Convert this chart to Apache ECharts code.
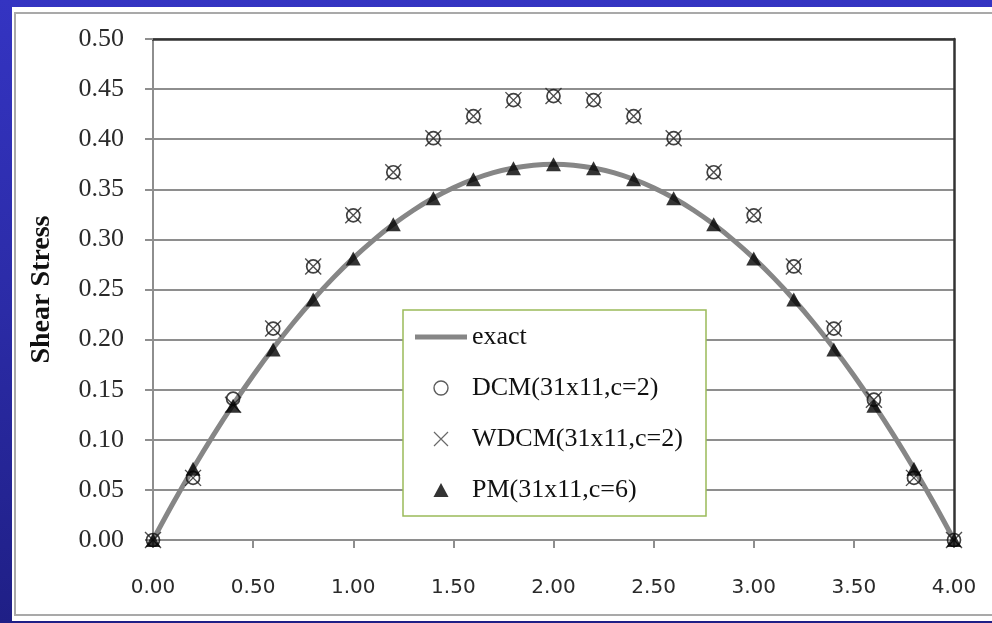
<!DOCTYPE html>
<html>
<head>
<meta charset="utf-8">
<script src="https://cdn.jsdelivr.net/npm/echarts@6/dist/echarts.min.js"></script>
<style>
html,body{margin:0;padding:0;width:992px;height:623px;overflow:hidden;}
body{background:linear-gradient(180deg,#3434c2 0%,#2b2ba6 50%,#1f1f86 100%);position:relative;}
#panel{position:absolute;left:12px;top:7px;width:1000px;height:614px;background:#fff;}
#frame{position:absolute;left:14px;top:12px;width:1000px;height:604px;border:2px solid #a9a9a9;box-sizing:border-box;}
#chart{position:absolute;left:0;top:0;width:992px;height:623px;}
</style>
</head>
<body>
<div id="panel"></div>
<div id="frame"></div>
<div id="chart"></div>
<script>
// ---- data ----
const xNodes = [0.0,0.2,0.4,0.6,0.8,1.0,1.2,1.4,1.6,1.8,2.0,2.2,2.4,2.6,2.8,3.0,3.2,3.4,3.6,3.8,4.0];
const dcmValues  = [0,0.062,0.141,0.211,0.273,0.324,0.367,0.401,0.423,0.439,0.443,0.439,0.423,0.401,0.367,0.324,0.273,0.211,0.140,0.062,0];
const wdcmValues = [0,0.062,0.135,0.211,0.273,0.324,0.367,0.401,0.423,0.439,0.443,0.439,0.423,0.401,0.367,0.324,0.273,0.211,0.140,0.062,0];
const pmValues   = [0,0.071,0.134,0.190,0.240,0.281,0.315,0.341,0.360,0.371,0.375,0.371,0.360,0.341,0.315,0.281,0.240,0.190,0.134,0.071,0];
const exactX = [0.0,0.1,0.2,0.3,0.4,0.5,0.6,0.7,0.8,0.9,1.0,1.1,1.2,1.3,1.4,1.5,1.6,1.7,1.8,1.9,2.0,
                2.1,2.2,2.3,2.4,2.5,2.6,2.7,2.8,2.9,3.0,3.1,3.2,3.3,3.4,3.5,3.6,3.7,3.8,3.9,4.0];
const exactY = [0,0.0366,0.0713,0.1041,0.1350,0.1641,0.1913,0.2166,0.2400,0.2616,0.2813,0.2991,0.3150,0.3291,0.3413,0.3516,0.3600,0.3666,0.3713,0.3741,0.3750,
                0.3741,0.3713,0.3666,0.3600,0.3516,0.3413,0.3291,0.3150,0.2991,0.2813,0.2616,0.2400,0.2166,0.1913,0.1641,0.1350,0.1041,0.0713,0.0366,0];
const seriesNames = ['exact','DCM(31x11,c=2)','WDCM(31x11,c=2)','PM(31x11,c=6)'];
const yTitle = 'Shear Stress';

const pair = (xs, ys) => xs.map((x, i) => [x, ys[i]]);

const chart = echarts.init(document.getElementById('chart'), null, {renderer:'canvas'});
const gridGray = '#8e8e8e';
const xPath = 'path://M0 0L10 10M10 0L0 10';
chart.setOption({
  animation: false,
  backgroundColor: 'transparent',
  grid: {left:153, right:38, top:39, bottom:83, containLabel:false},
  xAxis: [{
    type:'value', min:0, max:4, interval:0.5, position:'bottom',
    axisLine:{show:true, onZero:false, lineStyle:{color:gridGray, width:2}},
    axisTick:{show:true, inside:false, length:8, lineStyle:{color:gridGray, width:2}},
    splitLine:{show:false},
    axisLabel:{margin:38, color:'#2a2a2a', fontFamily:'DejaVu Sans', fontSize:20,
      formatter:v => v.toFixed(2)}
  },{
    type:'value', min:0, max:4, interval:0.5, position:'top',
    axisLine:{show:true, onZero:false, lineStyle:{color:'#333', width:2.5}},
    axisTick:{show:false}, axisLabel:{show:false}, splitLine:{show:false}
  }],
  yAxis: [{
    type:'value', min:0, max:0.5, interval:0.05, position:'left',
    name: yTitle, nameLocation:'middle', nameGap:97, nameRotate:90,
    nameTextStyle:{fontFamily:'Liberation Serif', fontWeight:'bold', fontSize:28, color:'#111', padding:[0,0,0,0]},
    axisLine:{show:true, onZero:false, lineStyle:{color:gridGray, width:2}},
    axisTick:{show:true, inside:false, length:8, lineStyle:{color:gridGray, width:2}},
    splitLine:{show:true, lineStyle:{color:gridGray, width:2}},
    axisLabel:{margin:29, color:'#2a2a2a', fontFamily:'Liberation Serif', fontSize:26,
      formatter:v => v.toFixed(2)}
  },{
    type:'value', min:0, max:0.5, interval:0.05, position:'right',
    axisLine:{show:true, onZero:false, lineStyle:{color:'#333', width:2.5}},
    axisTick:{show:false}, axisLabel:{show:false}, splitLine:{show:false}
  }],
  graphic: [{
    type:'rect', z:50, shape:{x:403, y:310, width:303, height:206},
    style:{fill:'#fff', stroke:'#9bbb59', lineWidth:1.5}
  }],
  legend: {
    z:60, orient:'vertical', left:415, top:322, padding:0,
    itemWidth:52, itemHeight:14, itemGap:21,
    textStyle:{fontFamily:'Liberation Serif', fontSize:26, lineHeight:30, color:'#111'},
    data: [
      {name: seriesNames[0], icon:'path://M0 0H52V5H0Z'},
      {name: seriesNames[1], icon:'circle', itemStyle:{color:'rgba(0,0,0,0)', borderColor:'#333', borderWidth:1.4}},
      {name: seriesNames[2], icon: xPath, itemStyle:{color:'none', borderColor:'#444', borderWidth:1.2}},
      {name: seriesNames[3], icon:'path://M7 0L14 13L0 13Z', itemStyle:{color:'#000'}}
    ]
  },
  series: [{
    name: seriesNames[0], type:'line', data: pair(exactX, exactY),
    smooth:0.3, symbol:'none', showSymbol:false,
    lineStyle:{color:'#868686', width:5}, itemStyle:{color:'#868686'}, z:2
  },{
    name: seriesNames[1], type:'scatter', data: pair(xNodes, dcmValues),
    symbol:'circle', symbolSize:13,
    itemStyle:{color:'rgba(0,0,0,0)', borderColor:'#111', borderWidth:1.7}, z:3
  },{
    name: seriesNames[2], type:'scatter', data: pair(xNodes, wdcmValues),
    symbol: xPath, symbolSize:16,
    itemStyle:{color:'none', borderColor:'#222', borderWidth:1.4}, z:4
  },{
    name: seriesNames[3], type:'scatter', data: pair(xNodes, pmValues),
    symbol:'triangle', symbolSize:[15,14],
    itemStyle:{color:'#000'}, z:5
  }]
});
</script>
</body>
</html>
